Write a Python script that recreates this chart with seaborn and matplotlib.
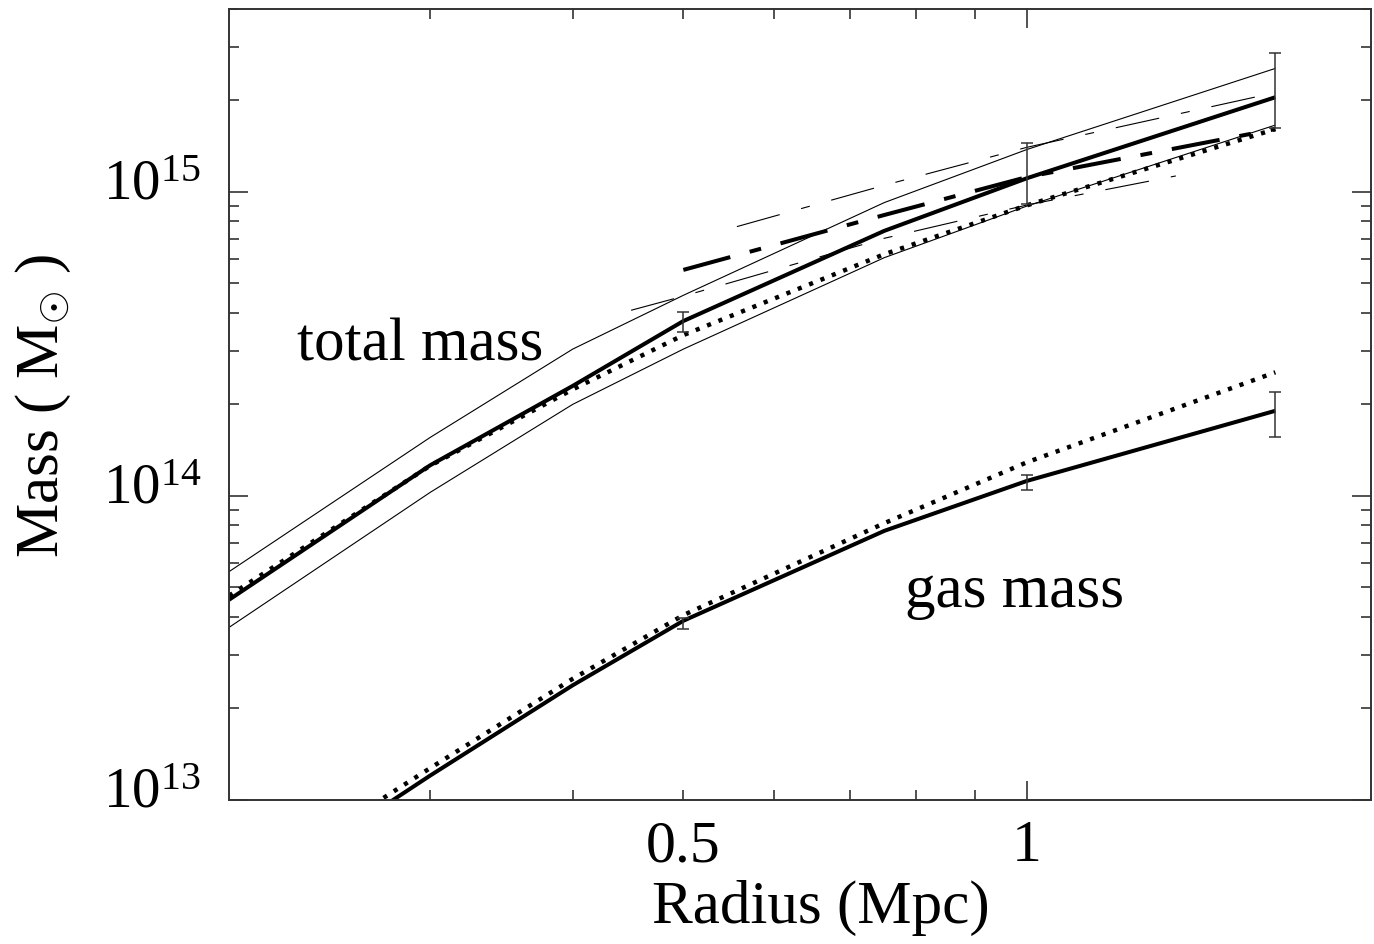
import matplotlib
matplotlib.use('Agg')
import matplotlib.pyplot as plt
import matplotlib.ticker as mticker
import matplotlib.transforms as mtransforms
import seaborn as sns

sns.set_style('ticks')
plt.rcParams['font.family'] = ['Liberation Serif', 'DejaVu Serif']
plt.rcParams['mathtext.fontset'] = 'custom'
plt.rcParams['mathtext.rm'] = 'Liberation Serif'
plt.rcParams['mathtext.it'] = 'Liberation Serif:italic'
plt.rcParams['mathtext.bf'] = 'Liberation Serif:bold'
plt.rcParams['lines.scale_dashes'] = False
plt.rcParams['text.color'] = 'black'
plt.rcParams['axes.labelcolor'] = 'black'
plt.rcParams['xtick.labelcolor'] = 'black'
plt.rcParams['ytick.labelcolor'] = 'black'

# radius grid (Mpc)
radius = [0.2, 0.3, 0.4, 0.5, 0.75, 1.0, 1.65]

# total mass profiles
total_best = [4.55e13, 1.26e14, 2.30e14, 3.76e14, 7.45e14, 1.11e15, 2.05e15]
total_upper = [5.63e13, 1.556e14, 3.04e14, 4.57e14, 9.23e14, 1.38e15, 2.55e15]
total_lower = [3.69e13, 1.026e14, 2.00e14, 3.04e14, 6.08e14, 8.99e14, 1.66e15]
total_model = [4.69e13, 1.256e14, 2.24e14, 3.38e14, 6.24e14, 9.04e14, 1.61e15]

# second total mass estimate and its bounds
alt_radius = [0.5, 0.75, 1.0, 1.65]
alt_mass = [5.54e14, 8.4e14, 1.12e15, 1.61e15]
alt_lo_radius = [0.45, 0.5, 0.75, 1.0, 1.35]
alt_lo_mass = [4.08e14, 4.54e14, 7.04e14, 9.06e14, 1.129e15]
alt_hi_radius = [0.557, 0.75, 1.0, 1.65]
alt_hi_mass = [7.69e14, 1.052e15, 1.403e15, 2.123e15]

# gas mass profiles
gas_best = [4.4e12, 1.20e13, 2.38e13, 3.88e13, 7.67e13, 1.12e14, 1.905e14]
gas_model = [4.8e12, 1.27e13, 2.50e13, 4.05e13, 8.13e13, 1.29e14, 2.55e14]

# error bars
err_radius = [0.5, 1.0, 1.65]
total_err_lo = [3.45e14, 9.1e14, 1.62e15]
total_err_hi = [4.02e14, 1.445e15, 2.86e15]
gas_err_lo = [3.65e13, 1.045e14, 1.567e14]
gas_err_hi = [3.95e13, 1.17e14, 2.19e14]

fig = plt.figure(figsize=(13.74, 9.45), dpi=100)
ax = fig.add_axes([0.1667, 0.1527, 0.8309, 0.8367])

thin = 0.8
thick = 2.9
dotted = (0, (3.0, 5.8))
dash_long_short = (0, (35, 14.5, 8.5, 14.5))
thin_dash = (0, (32, 16, 6.5, 16))


def line(x, y, lw, ls='-'):
    sns.lineplot(x=x, y=y, ax=ax, color='black', linewidth=lw,
                 linestyle=ls, dash_capstyle='butt', solid_capstyle='butt')


line(radius, total_upper, thin)
line(radius, total_lower, thin)
line(alt_lo_radius, alt_lo_mass, thin, thin_dash)
line(alt_hi_radius, alt_hi_mass, thin, thin_dash)
line(radius, total_model, 3.2, dotted)
line(radius, total_best, thick)
line(alt_radius, alt_mass, thick, dash_long_short)
line(radius, gas_model, 3.2, dotted)
line(radius, gas_best, thick)

# error bars at the measured radii
tb = dict(zip(radius, total_best))
gb = dict(zip(radius, gas_best))
t_c = [tb[r] for r in err_radius]
g_c = [gb[r] for r in err_radius]
ax.errorbar(err_radius, t_c,
            yerr=[[c - lo for c, lo in zip(t_c, total_err_lo)],
                  [hi - c for c, hi in zip(t_c, total_err_hi)]],
            fmt='none', ecolor='#333333', elinewidth=1.1, capsize=4, capthick=1.1)
ax.errorbar(err_radius, g_c,
            yerr=[[c - lo for c, lo in zip(g_c, gas_err_lo)],
                  [hi - c for c, hi in zip(g_c, gas_err_hi)]],
            fmt='none', ecolor='#333333', elinewidth=1.1, capsize=4, capthick=1.1)

ax.set_xscale('log')
ax.set_yscale('log')
ax.set_xlim(0.2, 2.0)
ax.set_ylim(1e13, 4e15)

ax.xaxis.set_major_locator(mticker.FixedLocator([1.0]))
ax.xaxis.set_major_formatter(mticker.FixedFormatter(['1']))
ax.xaxis.set_minor_locator(mticker.FixedLocator([0.3, 0.4, 0.5, 0.6, 0.7, 0.8, 0.9]))
ax.xaxis.set_minor_formatter(mticker.FixedFormatter(['', '', '0.5', '', '', '', '']))

ax.yaxis.set_major_locator(mticker.FixedLocator([1e13, 1e14, 1e15]))
ax.yaxis.set_major_formatter(mticker.FixedFormatter([r'$10^{13}$', r'$10^{14}$', r'$10^{15}$']))
ax.yaxis.set_minor_locator(mticker.LogLocator(base=10, subs=range(2, 10)))
ax.yaxis.set_minor_formatter(mticker.NullFormatter())

ax.tick_params(which='both', direction='in', top=True, right=True,
               color='#333333', width=1.2)
ax.tick_params(which='major', length=13.5)
ax.tick_params(which='minor', length=7)
ax.tick_params(axis='x', which='both', labelsize=43, pad=14)
ax.tick_params(axis='y', which='both', labelsize=41, pad=20)

# y labels sit with their baseline just under the tick
shift = mtransforms.ScaledTranslation(0, -0.07, fig.dpi_scale_trans)
for lab in ax.get_yticklabels():
    lab.set_verticalalignment('baseline')
    lab.set_transform(lab.get_transform() + shift)

for s in ax.spines.values():
    s.set_color('#333333')
    s.set_linewidth(1.4)

ax.set_xlabel('Radius (Mpc)', fontsize=44)
ax.set_ylabel(r'Mass ( M$_{\odot}$ )', fontsize=44)
ax.xaxis.set_label_coords(0.518, -0.1)
ax.yaxis.set_label_coords(-0.137, 0.5)

ax.text(0.2296, 2.82e14, 'total mass', fontsize=44, va='baseline')
ax.text(0.782, 4.35e13, 'gas mass', fontsize=44, va='baseline')

fig.savefig('out.png', dpi=100)
